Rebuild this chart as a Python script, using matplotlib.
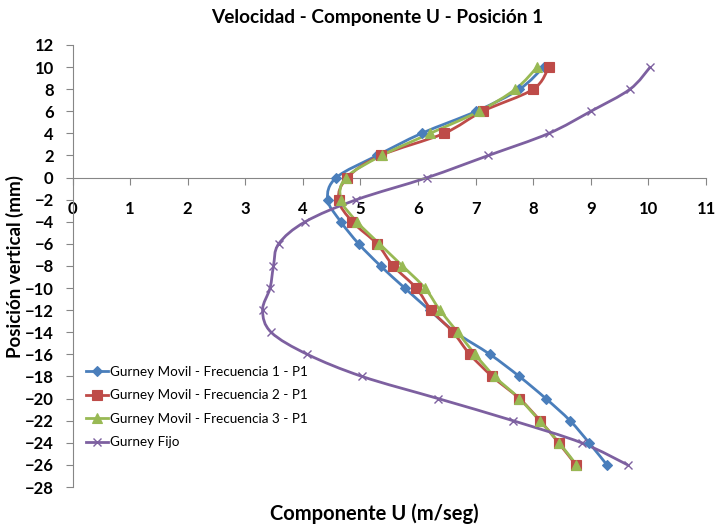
import matplotlib
matplotlib.use("Agg")
import matplotlib.pyplot as plt
from matplotlib.path import Path
from matplotlib.patches import PathPatch
from matplotlib.lines import Line2D
import numpy as np

plt.rcParams['font.family'] = ['Lato', 'DejaVu Sans']

# posiciones verticales (mm)
pos = [10, 8, 6, 4, 2, 0, -2, -4, -6, -8, -10, -12, -14, -16, -18, -20, -22, -24, -26]

frec1 = [8.18, 7.76, 7.01, 6.06, 5.29, 4.58, 4.43, 4.66, 4.97, 5.35, 5.77, 6.20, 6.65,
         7.25, 7.76, 8.22, 8.64, 8.97, 9.28]
frec2 = [8.27, 8.00, 7.12, 6.45, 5.35, 4.77, 4.62, 4.86, 5.29, 5.57, 5.97, 6.23, 6.61,
         6.90, 7.29, 7.76, 8.12, 8.44, 8.74]
frec3 = [8.07, 7.69, 7.06, 6.21, 5.37, 4.75, 4.66, 4.94, 5.33, 5.73, 6.12, 6.38, 6.69,
         6.99, 7.33, 7.76, 8.11, 8.45, 8.75]
fijo = [10.03, 9.68, 9.00, 8.27, 7.22, 6.16, 4.93, 4.04, 3.58, 3.49, 3.43, 3.30, 3.45,
        4.08, 5.03, 6.35, 7.65, 8.84, 9.64]

series = [
    ("Gurney Movil - Frecuencia 1 - P1", frec1, "#4A7EBB", "D", 5),
    ("Gurney Movil - Frecuencia 2 - P1", frec2, "#BE4B48", "s", 7),
    ("Gurney Movil - Frecuencia 3 - P1", frec3, "#98B954", "^", 7),
    ("Gurney Fijo", fijo, "#7D60A0", "x", 6),
]


def smooth_path(xs, ys):
    # curva suavizada tipo Excel (bezier catmull-rom por los puntos)
    p = np.column_stack([xs, ys]).astype(float)
    n = len(p)
    verts = [p[0]]
    codes = [Path.MOVETO]
    for i in range(n - 1):
        p0 = p[i - 1] if i > 0 else p[i]
        p3 = p[i + 2] if i + 2 < n else p[i + 1]
        c1 = p[i] + (p[i + 1] - p0) / 6.0
        c2 = p[i + 1] - (p3 - p[i]) / 6.0
        verts += [c1, c2, p[i + 1]]
        codes += [Path.CURVE4] * 3
    return Path(verts, codes)


fig = plt.figure(figsize=(7.18, 5.27), dpi=100)
ax = fig.add_axes([72.5 / 718, 40 / 527, 633.5 / 718, 442 / 527])

handles = []
for name, vals, color, mk, ms in series:
    ax.add_patch(PathPatch(smooth_path(vals, pos), fill=False, edgecolor=color, lw=2, zorder=2))
    mew = 1 if mk == "x" else 0.8
    ax.plot(vals, pos, linestyle="none", marker=mk, markersize=ms, color=color,
            markeredgewidth=mew, zorder=3, clip_on=False)
    handles.append(Line2D([], [], color=color, lw=2, marker=mk, markersize=ms, markeredgewidth=mew))

ax.set_xlim(0, 11)
ax.set_ylim(-28, 12)
ax.set_xticks(range(0, 12))
ax.set_yticks(range(-28, 13, 2))
ax.spines['top'].set_visible(False)
ax.spines['right'].set_visible(False)
ax.spines['bottom'].set_position(('data', 0))
ax.spines['bottom'].set_color('#868686')
ax.spines['left'].set_color('#868686')
ax.tick_params(axis='both', colors='#868686', length=5, labelcolor='black', labelsize=12)
ax.tick_params(axis='x', pad=12)
ax.tick_params(axis='y', pad=8.5)
for lab in ax.get_xticklabels() + ax.get_yticklabels():
    lab.set_fontweight('bold')

fig.text(377 / 718, 1 - 18 / 527, "Velocidad - Componente U - Posición 1", ha='center', va='center',
         fontsize=13.7, fontweight='bold')
fig.text(374 / 718, 1 - 514 / 527, "Componente U (m/seg)", ha='center', va='center',
         fontsize=14.5, fontweight='bold')
fig.text(15 / 718, 1 - 266 / 527, "Posición vertical (mm)", ha='center', va='center',
         rotation=90, fontsize=13.5, fontweight='bold')

ax.legend(handles, [s[0] for s in series], loc='upper left', frameon=False,
          bbox_to_anchor=(86 / 718, 1 - 366 / 527), bbox_transform=fig.transFigure,
          borderaxespad=0, borderpad=0, handlelength=1.6, handletextpad=0.15,
          labelspacing=0.85, fontsize=9.7)

fig.savefig("out.png", dpi=100)
